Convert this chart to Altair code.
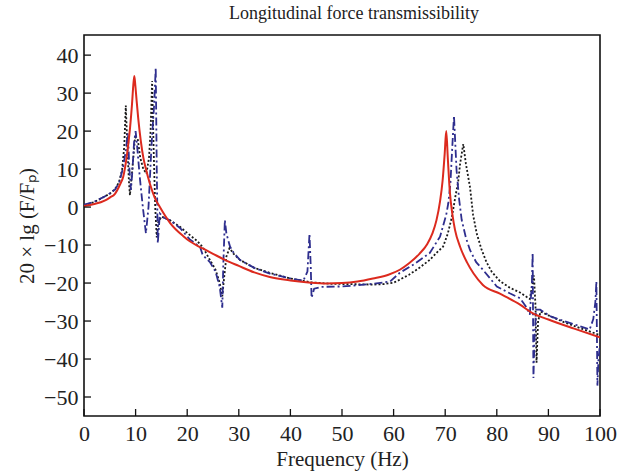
import altair as alt
import pandas as pd

# ---------------- data ----------------
red_f = [0, 2, 4, 5, 6, 7, 7.6, 8.3, 8.9, 9.3, 9.55, 9.75, 9.95, 10.2, 10.5, 11, 11.5, 12, 12.8,
         13.7, 14.7, 16.7, 19.2, 20.5, 22, 23, 25, 27.3, 30, 33, 36, 40, 44, 47, 50, 53, 56, 59,
         61.2, 63, 65, 66.5, 67.5, 68.3, 69, 69.5, 69.9, 70.2, 70.5, 70.9, 71.4, 71.9, 72.9, 74.2,
         75.5, 77.3, 80.6, 84.5, 87, 90, 95, 100]
red_v = [0.3, 0.8, 1.7, 2.5, 3.5, 6, 8, 13.5, 20.5, 27, 32, 34.5, 32, 28, 23.5, 17.5, 13, 10, 6,
         2.5, 0, -4.2, -7.6, -9, -10.2, -10.9, -12.3, -13.9, -15.5, -17.2, -18.4, -19.3, -19.9, -20.1,
         -20, -19.6, -18.8, -17.8, -16.5, -14.8, -12.3, -9.8, -7, -3.5, 1.5, 7, 14, 20, 13, 4, -2,
         -6, -10.5, -14.5, -17.5, -20.5, -22.8, -25.7, -28, -29.6, -32, -34.3]

black_f = [0, 2, 4, 5, 6, 6.8, 7.4, 7.8, 8.1, 8.4, 8.7, 8.9, 9.3, 9.9, 10.4, 10.9, 11.5, 12.1, 12.6,
           12.9, 13.2, 13.5, 13.8, 14.1, 14.4, 15, 16.7, 18.6, 20, 22, 23, 24.4, 25.5, 26.3, 26.8,
           27.2, 27.6, 28.2, 29, 30.2, 33, 36, 40, 44, 48, 52, 56, 58, 60, 61.2, 63, 65, 67, 68.5, 69.6,
           70.5, 71.3, 72, 72.5, 72.9, 73.5, 74, 74.8, 75.4, 76.1, 77, 78, 79, 80.6, 82.5, 84.5,
           86.4, 87.2, 87.5, 87.7, 88, 88.5, 90, 93, 96, 100]
black_v = [0.5, 1.3, 2.8, 3.5, 4.7, 6.6, 10, 16, 26.7, 16, 7, 3.1, 9, 18.4, 18, 13, 10, 8.8, 13,
           20, 33.2, 15, 0, -8, -4, -2.5, -3.5, -5.2, -6.8, -9, -10.5, -13.9, -16.5, -20, -23.5,
           -18, -13, -10.8, -12.3, -13.9, -16, -17.3, -18.8, -19.8, -20.2, -20.3, -20.4, -20.3, -19.9,
           -19.1, -17.8, -16, -13.9, -11.8, -10.4, -7, -2.6, 3, 6.5, 11.5, 16.6, 11.5, 5.3, -2, -6.9,
           -11, -14.5, -17, -19.5, -21.2, -22.5, -24.2, -18, -26, -41, -30, -27.5, -28.5, -30.3,
           -31.8, -33.7]

blue_f = [0, 2, 4, 5, 6, 6.8, 7.5, 8, 8.5, 8.8, 9.1, 9.4, 9.7, 10.0, 10.3, 10.8, 11.4, 12.0, 12.5,
          13.1, 13.6, 13.9, 14.1, 14.3, 14.7, 15.5, 16.7, 18.6, 20.5, 22.5, 23, 24.4, 25.5, 26.3,
          26.8, 27.0, 27.3, 27.6, 28.3, 29, 30.2, 33, 36, 40, 42.5, 43.3, 43.7, 43.95, 44.1, 44.6,
          46, 49.6, 53, 56, 59.3, 61.2, 64, 67, 69, 70.2, 70.6, 71.0, 71.3, 71.7, 72.2, 72.7, 73.2,
          74.0, 74.8, 76, 77.3, 80, 82.5, 84.5, 85.8, 86.4, 86.8, 86.95, 87.1, 87.3, 87.6, 88.4,
          90.3, 93, 96, 98.0, 98.7, 99.1, 99.3, 99.5, 99.7, 100]
blue_v = [0.6, 1.4, 2.8, 3.6, 4.6, 6.4, 10, 14, 19.5, 10, 4.5, 10, 17, 20, 16, 8, 0, -6.9, 0,
          16.7, 27, 36.7, 10, -9.5, -1.7, -2.8, -3.5, -5.5, -8.5, -10.5, -12.6, -14.5, -17, -21,
          -26.5, -15, -3.4, -7, -10.4, -12, -13.9, -16, -17.5, -18.8, -19.4, -17, -7, -16, -23.9, -21.5,
          -21, -20.9, -20.6, -20.2, -19.6, -17.3, -15, -12.1, -7.8, -2, 1, 6, 14, 24, 9.7, 2, -3.4,
          -8, -11.3, -14.5, -16.5, -20.9, -22.7, -24, -26.5, -28.3, -20, -12, -45, -35, -27, -27,
          -28.7, -30, -31.3, -32.2, -29.5, -25, -19.6, -47, -40, -36]

x_tick_values = [0, 10, 20, 30, 40, 50, 60, 70, 80, 90, 100]
y_tick_values = [-50, -40, -30, -20, -10, 0, 10, 20, 30, 40]

# ---------------- chart ----------------
FONT = "Liberation Serif"
W, H = 516, 381

red_df = pd.DataFrame({"f": red_f, "v": red_v})
black_df = pd.DataFrame({"f": black_f, "v": black_v})
blue_df = pd.DataFrame({"f": blue_f, "v": blue_v})

xs = alt.Scale(domain=[0, 100], nice=False, zero=False)
ys = alt.Scale(domain=[-55, 45.3], nice=False, zero=False)

x_axis = alt.Axis(values=x_tick_values, tickSize=0, labelPadding=7, title="Frequency (Hz)",
                  titlePadding=4, grid=False, domain=False, labelFontSize=22, titleFontSize=21,
                  labelFlush=False, labelOverlap=False,
                  labelFont=FONT, titleFont=FONT, labelColor="#222", titleColor="#222",
                  titleFontWeight="normal")
y_axis = alt.Axis(values=y_tick_values, tickSize=0, labelPadding=6,
                  title="20 × lg (F/Fₚ)", titlePadding=6, grid=False, domain=False,
                  labelFontSize=22, titleFontSize=21, labelFont=FONT, titleFont=FONT,
                  labelFlush=False, labelOverlap=False,
                  labelColor="#222", titleColor="#222", titleFontWeight="normal")

X = alt.X("f:Q", scale=xs, axis=x_axis)
Y = alt.Y("v:Q", scale=ys, axis=y_axis)

black_line = alt.Chart(black_df).mark_line(
    color="#1a1a1a", strokeWidth=1.8, strokeDash=[2, 2], clip=True
).encode(x=X, y=Y)

blue_line = alt.Chart(blue_df).mark_line(
    color="#2e2e8e", strokeWidth=1.8, strokeDash=[8, 3, 2, 3], clip=True
).encode(x=X, y=Y)

red_line = alt.Chart(red_df).mark_line(
    color="#dc2a1e", strokeWidth=2, interpolate="monotone", clip=True
).encode(x=X, y=Y)

x_ticks = alt.Chart(pd.DataFrame({"f": x_tick_values})).mark_rule(
    color="#111", strokeWidth=1.3
).encode(x=X, y=alt.value(H - 7), y2=alt.value(H))

y_ticks = alt.Chart(pd.DataFrame({"v": y_tick_values})).mark_rule(
    color="#111", strokeWidth=1.3
).encode(y=Y, x=alt.value(0), x2=alt.value(7))

chart = alt.layer(black_line, blue_line, red_line, x_ticks, y_ticks).properties(
    width=W,
    height=H,
    background="white",
    padding={"left": 84, "top": 35, "right": 28, "bottom": 59},
    autosize=alt.AutoSizeParams(type="none"),
    title=alt.TitleParams("Longitudinal force transmissibility", font=FONT, fontSize=18,
                          fontWeight="normal", color="#222", offset=12, dx=12),
).configure_view(stroke="#111", strokeWidth=1.6)

chart.save("out.html", embed_options={"renderer": "svg", "actions": False})
